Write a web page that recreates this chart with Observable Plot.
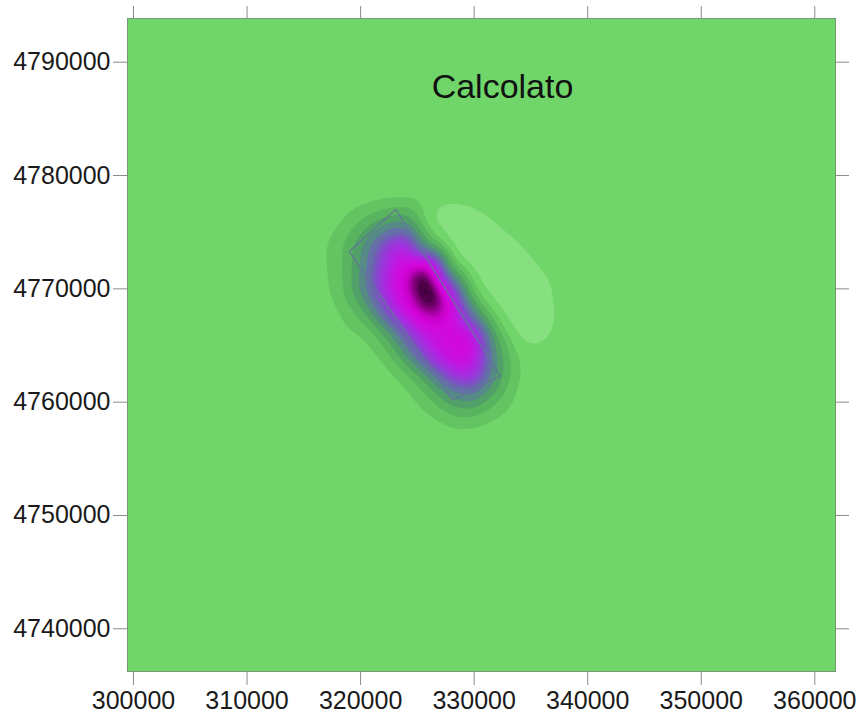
<!DOCTYPE html>
<html>
<head>
<meta charset="utf-8">
<script src="https://cdn.jsdelivr.net/npm/d3@7"></script>
<script src="https://cdn.jsdelivr.net/npm/@observablehq/plot@0.6"></script>
<style>
  html, body { margin: 0; padding: 0; background: #ffffff; }
  #chart svg { display: block; }
</style>
</head>
<body>
<div id="chart"></div>
<script>
// Map extent (UTM metres)
const xDomain = [299472, 361822];
const yDomain = [4736231, 4793857];
const xTicks = [300000, 310000, 320000, 330000, 340000, 350000, 360000];
const yTicks = [4740000, 4750000, 4760000, 4770000, 4780000, 4790000];

// Sampled computed displacement (arbitrary units) on a 2 km grid around the source
const gridX = [316000, 318000, 320000, 322000, 324000, 326000, 328000, 330000, 332000, 334000, 336000, 338000];
const gridY = [4780000, 4778000, 4776000, 4774000, 4772000, 4770000, 4768000, 4766000, 4764000, 4762000, 4760000, 4758000, 4756000];
const gridValues = [
  [0, 0, 0, 0, 0, 0, 0, 0, 0, 0, 0, 0],
  [0, 0, 0, 0, 0, 0.2, 0.3, 0.15, 0, 0, 0, 0],
  [0, -0.1, -1.0, -2.2, -2.7, 0.8, 1.2, 1.0, 0.35, 0, 0, 0],
  [0, -0.6, -2.4, -5.0, -6.5, -1.2, 1.0, 1.2, 1.1, 0.45, 0, 0],
  [0, -0.5, -2.6, -5.6, -7.4, -9.0, -0.8, 1.0, 1.3, 1.1, 0.35, 0],
  [0, -0.4, -2.8, -5.9, -7.8, -10.6, -5.6, 0, 1.1, 1.2, 0.8, 0.1],
  [0, 0, -1.2, -4.6, -6.9, -9.0, -7.7, -3.0, 0.3, 1.2, 1.0, 0.1],
  [0, 0, -0.1, -1.5, -4.5, -6.6, -7.4, -7.1, -1.5, 0.9, 0.9, 0],
  [0, 0, 0, -0.2, -2.5, -5.5, -7.1, -7.1, -2.5, 0, 0.1, 0],
  [0, 0, 0, 0, -0.3, -2.2, -5.0, -5.8, -2.5, 0, 0, 0],
  [0, 0, 0, 0, 0, -0.6, -2.2, -2.6, -1.0, 0, 0, 0],
  [0, 0, 0, 0, 0, 0, -0.2, -0.2, 0, 0, 0, 0],
  [0, 0, 0, 0, 0, 0, 0, 0, 0, 0, 0, 0]
];
// Extra samples near the deepest point
const extraX = [325500, 326500];
const extraY = [4771000, 4769000];
const extraV = [-10.2, -10.2];

// Surface projection of the fault plane
const faultX = [323100, 332300, 328100, 319000, 323100];
const faultY = [4777000, 4762300, 4760200, 4773300, 4777000];

// Colour ramp: value at the lower bound of each band -> colour
const bandValues = [-10, -9.4, -8.8, -8.1, -7.4, -6.6, -5.8, -5.0, -4.4, -4.0, -3.4, -2.6, -1.8, -1.0, -0.3, 0.5];
const bandColors = ["#120010", "#3c0036", "#80007a", "#c400c4", "#d406dc", "#c414e0", "#a82ce0", "#8a44d0",
                    "#7060b4", "#6470a6", "#568a86", "#50a068", "#58b45e", "#64c462", "#70d66a", "#86e07f"];
const background = "#70d66a";

const samples = [];
gridY.forEach((y, i) => gridX.forEach((x, j) => samples.push({x, y, v: gridValues[i][j]})));
extraX.forEach((x, k) => samples.push({x, y: extraY[k], v: extraV[k]}));
// zero displacement far from the source (map corners)
for (const x of xDomain) for (const y of yDomain) samples.push({x, y, v: 0});

const levels = d3.range(-11, -4.0, 0.25).concat([-4.0, -3.4, -2.6, -1.8, -1.0, -0.3, 0.5]);

const fault = faultX.map((x, i) => ({x, y: faultY[i]}));

const chart = Plot.plot({
  width: 861,
  height: 716,
  marginLeft: 127,
  marginRight: 26,
  marginTop: 18,
  marginBottom: 45,
  style: {fontFamily: "'Liberation Sans', Arial, sans-serif", fontSize: "25px", background: "#ffffff", color: "#1a1a1a"},
  x: {domain: xDomain, label: null},
  y: {domain: yDomain, label: null},
  color: {type: "linear", domain: bandValues, range: bandColors, clamp: true},
  marks: [
    Plot.frame({fill: background}),
    Plot.contour(samples, {
      x: "x", y: "y", fill: "v",
      x1: xDomain[0], x2: xDomain[1], y1: yDomain[0], y2: yDomain[1],
      interpolate: "barycentric", pixelSize: 1, blur: 8,
      thresholds: levels, stroke: "none"
    }),
    Plot.line(fault, {x: "x", y: "y", stroke: "#63739c", strokeWidth: 1.4, strokeOpacity: 0.85}),
    Plot.frame({stroke: "#7d7d7d", strokeOpacity: 0.6}),
    Plot.axisX({anchor: "bottom", ticks: xTicks, tickSize: 14, tickPadding: 6, stroke: "#8c8c8c", fill: "#1a1a1a", tickFormat: d => String(d), fontSize: 25, label: null}),
    Plot.axisX({anchor: "top", ticks: xTicks, tickSize: 13, stroke: "#8c8c8c", tickFormat: () => "", label: null}),
    Plot.axisY({anchor: "left", ticks: yTicks, tickSize: 14, tickPadding: 3, stroke: "#8c8c8c", fill: "#1a1a1a", tickFormat: d => String(d), fontSize: 25, label: null}),
    Plot.axisY({anchor: "right", ticks: yTicks, tickSize: 13, stroke: "#8c8c8c", tickFormat: () => "", label: null}),
    Plot.text(["Calcolato"], {frameAnchor: "top", dx: 21, dy: 55, lineAnchor: "top", fontSize: 34, fill: "#111111"})
  ]
});
document.getElementById("chart").appendChild(chart);
</script>
</body>
</html>
